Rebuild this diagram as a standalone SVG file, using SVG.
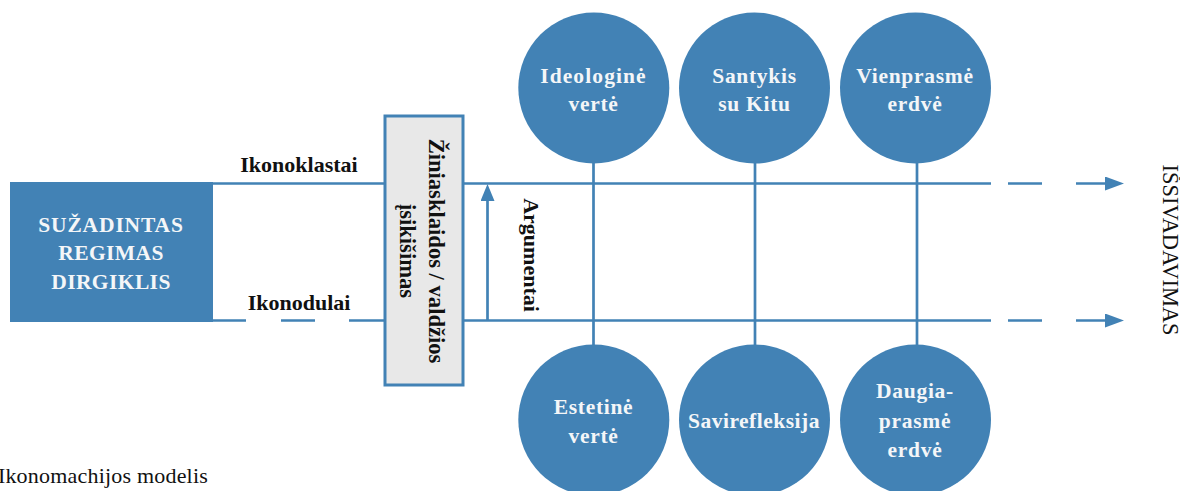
<svg xmlns="http://www.w3.org/2000/svg" width="1180" height="491" viewBox="0 0 1180 491">
<style>
text{font-family:"Liberation Serif","Times New Roman",serif;font-weight:700;fill:#111;text-anchor:middle}
.w{fill:#f4f6f8;font-size:21.5px;letter-spacing:.7px}
.c{stroke:#4282b5;stroke-width:2.7;fill:none}
.n{fill:#4282b5}
.l{font-size:22px}
.r{font-size:22.6px}
</style>
<defs><marker id="a" markerUnits="userSpaceOnUse" markerWidth="19" markerHeight="14" refX="5" refY="7" orient="auto"><path d="M0 0L19 7L0 14Z" fill="#4282b5"/></marker>
<marker id="b" markerUnits="userSpaceOnUse" markerWidth="17" markerHeight="14" refX="5" refY="7" orient="auto"><path d="M0 0L17 7L0 14Z" fill="#4282b5"/></marker></defs>
<rect width="1180" height="491" fill="#fff"/>
<g id="connectors">
<path class="c" d="M213 183.5H384M463 183.5H991M1008 183.5H1042"/>
<path class="c" d="M213 320.5H246M281 320.5H315M349 320.5H384M463 320.5H991M1008 320.5H1042"/>
<path class="c" d="M1076 183.5H1110" marker-end="url(#a)"/>
<path class="c" d="M1076 320.5H1110" marker-end="url(#a)"/>
<path class="c" d="M487.5 320.5V196" marker-end="url(#b)"/>
<path class="c" d="M593.5 160V350M755 160V350M917 160V350"/>
</g>
<g id="stimulus"><rect class="n" x="10" y="182" width="203" height="140"/>
<text class="w" x="111" y="232" style="letter-spacing:.85px">SUŽADINTAS</text><text class="w" x="111" y="260" style="letter-spacing:.4px">REGIMAS</text><text class="w" x="111" y="289" style="letter-spacing:.4px">DIRGIKLIS</text></g>
<g id="media"><rect x="385" y="116" width="78" height="269" fill="#e8e8e8" stroke="#4282b5" stroke-width="3"/>
<text class="r" transform="translate(429 251) rotate(90)">Žiniasklaidos / valdžios</text>
<text class="r" transform="translate(400 251) rotate(90)">įsikišimas</text></g>
<g id="ideologine"><circle class="n" cx="593.8" cy="88" r="75.5"/><text class="w" x="593.5" y="83" style="letter-spacing:1.1px">Ideologinė</text><text class="w" x="593.5" y="111">vertė</text></g>
<g id="santykis"><circle class="n" cx="754.5" cy="88" r="75.5"/><text class="w" x="754.5" y="83">Santykis</text><text class="w" x="754.5" y="111">su Kitu</text></g>
<g id="vienprasme"><circle class="n" cx="915.5" cy="88" r="75.5"/><text class="w" x="915" y="83">Vienprasmė</text><text class="w" x="915" y="111">erdvė</text></g>
<g id="estetine"><circle class="n" cx="593.8" cy="420" r="75.5"/><text class="w" x="593.5" y="414">Estetinė</text><text class="w" x="593.5" y="443">vertė</text></g>
<g id="savirefleksija"><circle class="n" cx="754.5" cy="420" r="75.5"/><text class="w" x="754" y="428" style="letter-spacing:.5px">Savirefleksija</text></g>
<g id="daugia"><circle class="n" cx="915.5" cy="420" r="75.5"/><text class="w" x="915" y="398">Daugia-</text><text class="w" x="915" y="428">prasmė</text><text class="w" x="915" y="457">erdvė</text></g>
<text class="l" x="299" y="172">Ikonoklastai</text>
<text class="l" x="299" y="310">Ikonodulai</text>
<text class="l" transform="translate(524 255) rotate(90)">Argumentai</text>
<text transform="translate(1162.5 250) rotate(90)" style="font-size:22.4px;font-weight:400">IŠSIVADAVIMAS</text>
<text x="208" y="483" style="font-size:22px;font-weight:400;text-anchor:end;letter-spacing:.2px">Ikonomachijos modelis</text>
</svg>
